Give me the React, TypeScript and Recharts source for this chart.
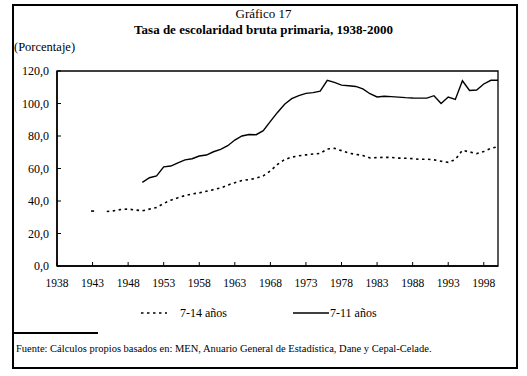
import React from "react";
import {
  LineChart,
  Line,
  XAxis,
  YAxis,
  ReferenceArea,
} from "recharts";

// years 1938..2000
const years = Array.from({ length: 63 }, (_, i) => 1938 + i);

// 7-14 años (dotted), starts 1943, gap in 1944
const age714: (number | null)[] = [
  null, null, null, null, null, 33.8, null, 33.5, 34, 34.8,
  35, 34.5, 34, 35, 36, 38.5, 40.5, 42, 43.3, 44.3,
  45, 46, 47, 48, 49.8, 51.3, 52.6, 53.2, 54, 55.5,
  58.5, 62.5, 65.5, 67, 67.8, 68.4, 68.9, 69.3, 72, 72.4,
  71, 69.5, 68.7, 68, 66.5, 66.7, 66.9, 66.8, 66.4, 66.3,
  66.1, 65.6, 65.8, 65.3, 64.5, 63.8, 65.5, 71.2, 70.2, 69.2,
  70.5, 72.4, 73.4,
];

// 7-11 años (solid), starts 1950
const age711: (number | null)[] = [
  null, null, null, null, null, null, null, null, null, null,
  null, null, 51.5, 54.3, 55.5, 61, 61.5, 63.5, 65.3, 66,
  67.7, 68.3, 70.3, 71.8, 74, 77.5, 80, 80.9, 80.8, 83.3,
  89, 94.5, 99.5, 103, 104.8, 106.2, 106.7, 107.6, 114.3, 113,
  111.3, 110.9, 110.5, 109, 106, 104, 104.5, 104.2, 103.9, 103.6,
  103.4, 103.3, 103.3, 104.8, 100, 104, 102.5, 114, 108, 108.3,
  112, 114.3, 114.3,
];

const xTicks = [1938, 1943, 1948, 1953, 1958, 1963, 1968, 1973, 1978, 1983, 1988, 1993, 1998];
const yTicks = [0, 20, 40, 60, 80, 100, 120];

const data = years.map((y, i) => ({ year: y, a: age714[i], b: age711[i] }));

const serif = '"Liberation Serif", "Times New Roman", Times, "DejaVu Serif", serif';

const fmt = (v: number) => v.toFixed(1).replace(".", ",");

// a point with no neighbours gets a short dash so it still shows
const lonePoint = (props: any) => {
  const { cx, cy, index, key } = props;
  const prev = index > 0 ? age714[index - 1] : null;
  const next = index < age714.length - 1 ? age714[index + 1] : null;
  if (age714[index] == null || prev != null || next != null) return <g key={key} />;
  return <line key={key} x1={cx - 1.5} x2={cx + 1.5} y1={cy} y2={cy} stroke="#000" strokeWidth={1.6} />;
};

export default function App() {
  return (
    <div
      style={{
        position: "absolute",
        left: 0,
        top: 0,
        width: 527,
        height: 376,
        background: "#fff",
        fontFamily: serif,
        color: "#000",
      }}
    >
      <div
        style={{
          position: "absolute",
          left: 12,
          top: 4,
          width: 506,
          height: 365,
          border: "2px solid #000",
          boxSizing: "border-box",
        }}
      />
      <div style={{ position: "absolute", left: 0, width: 527, top: 7, textAlign: "center", fontSize: 13, lineHeight: "14px" }}>
        Gráfico 17
      </div>
      <div style={{ position: "absolute", left: 0, width: 527, top: 23, textAlign: "center", fontSize: 13, lineHeight: "14px", fontWeight: "bold" }}>
        Tasa de escolaridad bruta primaria, 1938-2000
      </div>
      <div style={{ position: "absolute", left: 14, top: 40, fontSize: 12.5, lineHeight: "14px" }}>
        (Porcentaje)
      </div>

      <div style={{ position: "absolute", left: 0, top: 0 }}>
        <LineChart
          width={527}
          height={376}
          data={data}
          margin={{ top: 71, right: 29, left: 0, bottom: 80 }}
          style={{ fontFamily: serif }}
        >
          <ReferenceArea
            x1={1938}
            x2={2000}
            y1={0}
            y2={120}
            fill="none"
            stroke="#000"
            strokeWidth={1.3}
          />
          <XAxis
            dataKey="year"
            type="number"
            domain={[1938, 2000]}
            ticks={xTicks}
            height={30}
            tickSize={-4}
            tickMargin={17}
            axisLine={{ stroke: "#000", strokeWidth: 1.5 }}
            tickLine={{ stroke: "#000" }}
            tick={{ fill: "#000", fontSize: 11.5, fontFamily: serif }}
            interval={0}
          />
          <YAxis
            type="number"
            domain={[0, 120]}
            ticks={yTicks}
            width={57}
            tickSize={-4}
            tickMargin={12}
            tickFormatter={fmt}
            axisLine={{ stroke: "#000", strokeWidth: 1.5 }}
            tickLine={{ stroke: "#000" }}
            tick={{ fill: "#000", fontSize: 12, fontFamily: serif }}
            interval={0}
          />
          <Line
            dataKey="a"
            type="linear"
            stroke="#000"
            strokeWidth={1.6}
            strokeDasharray="2.5 3.5"
            dot={lonePoint}
            activeDot={false}
            connectNulls={false}
            isAnimationActive={false}
          />
          <Line
            dataKey="b"
            type="linear"
            stroke="#000"
            strokeWidth={1.4}
            dot={false}
            activeDot={false}
            connectNulls={false}
            isAnimationActive={false}
          />
        </LineChart>
      </div>

      {/* legend */}
      <svg style={{ position: "absolute", left: 0, top: 305 }} width={527} height={16}>
        <line x1={141} x2={167} y1={8} y2={8} stroke="#000" strokeWidth={1.6} strokeDasharray="2.5 3.5" />
        <line x1={293} x2={329} y1={8} y2={8} stroke="#000" strokeWidth={1.3} />
      </svg>
      <div style={{ position: "absolute", left: 180, top: 306, fontSize: 12, lineHeight: "14px" }}>7-14 años</div>
      <div style={{ position: "absolute", left: 330, top: 306, fontSize: 12, lineHeight: "14px" }}>7-11 años</div>

      <div style={{ position: "absolute", left: 14, top: 332, width: 84, height: 2, background: "#000" }} />
      <div style={{ position: "absolute", left: 16, top: 343, fontSize: 10.5, lineHeight: "12px", whiteSpace: "nowrap" }}>
        Fuente: Cálculos propios basados en: MEN, Anuario General de Estadística, Dane y Cepal-Celade.
      </div>
    </div>
  );
}
